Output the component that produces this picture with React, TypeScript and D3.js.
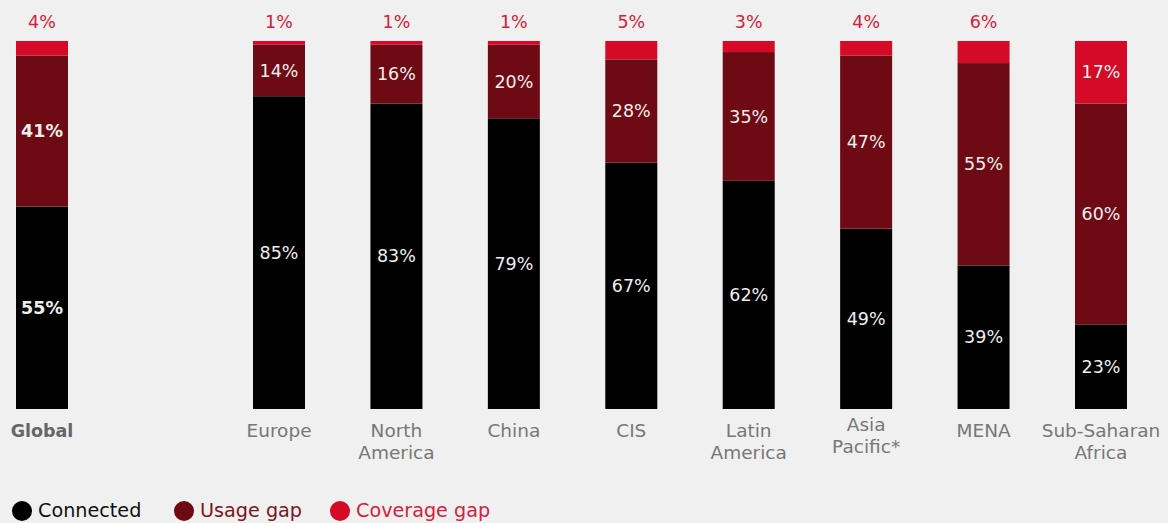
import React from "react";
import * as d3 from "d3";

const categories = ["Global", "Europe", "North America", "China", "CIS", "Latin America", "Asia Pacific*", "MENA", "Sub-Saharan Africa"];
const labelLines = [["Global"], ["Europe"], ["North", "America"], ["China"], ["CIS"], ["Latin", "America"], ["Asia", "Pacific*"], ["MENA"], ["Sub-Saharan", "Africa"]];
const connected = [55, 85, 83, 79, 67, 62, 49, 39, 23];
const usageGap = [41, 14, 16, 20, 28, 35, 47, 55, 60];
const coverageGap = [4, 1, 1, 1, 5, 3, 4, 6, 17];
const seriesNames = ["Connected", "Usage gap", "Coverage gap"];
const seriesColors = ["#000000", "#6e0a13", "#d40a27"];
const legendTextColors = ["#111111", "#7a1520", "#d6203b"];

const W = 1168, H = 523;
const FONT = "'DejaVu Sans', sans-serif";

export default function App() {
  const globalX = d3.scalePoint<string>().domain(["Global"]).range([42, 42]);
  const regionX = d3.scalePoint<string>().domain(categories.slice(1)).range([279, 1101]);
  const x = (c: string) => (c === "Global" ? globalX(c)! : regionX(c)!);
  const y = d3.scaleLinear().domain([0, 100]).range([409, 41]);
  const bw = 52;
  const data = categories.map((c, i) => ({ cat: c, Connected: connected[i], "Usage gap": usageGap[i], "Coverage gap": coverageGap[i] }));
  const stack = d3.stack<any>().keys(seriesNames)(data);

  return (
    <svg width={W} height={H} style={{ position: "absolute", left: 0, top: 0, background: "#f0f0f0" }}>
      <rect width={W} height={H} fill="#f0f0f0" />
      {stack.map((s, si) => (
        <g key={si}>
          {s.map((d, i) => {
            const cx = x(categories[i]);
            const y0 = y(d[0]), y1 = y(d[1]);
            const v = d[1] - d[0];
            const bold = i === 0;
            let label: React.ReactNode = null;
            if (si < 2 || v >= 10) {
              label = (
                <text x={cx} y={(y0 + y1) / 2} dy="0.35em" textAnchor="middle" fill="#eeeeee"
                  fontSize={17.5} fontWeight={bold ? "bold" : "normal"} fontFamily={FONT}>{v}%</text>
              );
            } else {
              label = (
                <text x={cx} y={28} textAnchor="middle" fill="#d6203b" fontSize={17.5} fontFamily={FONT}>{v}%</text>
              );
            }
            return (
              <g key={i}>
                <rect x={cx - bw / 2} y={y1} width={bw} height={y0 - y1} fill={seriesColors[si]} />
                {label}
              </g>
            );
          })}
        </g>
      ))}
      {categories.map((c, i) => {
        const cx = x(c);
        const lines = labelLines[i];
        const startY = c === "Asia Pacific*" ? 431 : 437;
        return (
          <text key={c} x={cx} textAnchor="middle" fill={i === 0 ? "#666666" : "#777777"}
            fontSize={i === 0 ? 17.5 : 18.5} fontWeight={i === 0 ? "bold" : "normal"} fontFamily={FONT}>
            {lines.map((l, j) => (
              <tspan key={j} x={cx} y={startY + j * 22}>{l}</tspan>
            ))}
          </text>
        );
      })}
      {seriesNames.map((n, i) => {
        const lx = [22, 184, 340][i];
        return (
          <g key={n}>
            <circle cx={lx} cy={511} r={10} fill={seriesColors[i]} />
            <text x={lx + 16} y={517} fill={legendTextColors[i]} fontSize={19.2} fontFamily={FONT}>{n}</text>
          </g>
        );
      })}
    </svg>
  );
}
